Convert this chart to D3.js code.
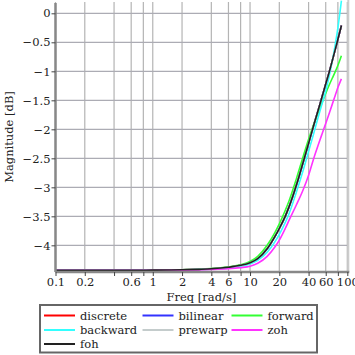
<!DOCTYPE html>
<html><head><meta charset="utf-8">
<script src="https://cdn.jsdelivr.net/npm/d3@7"></script>
<style>body{margin:0;background:#fff}svg{display:block}text{font-family:"DejaVu Serif",serif;fill:#222}</style>
</head><body>
<script>
const freq     = [0.1, 0.5, 1, 2, 3, 4, 6, 8, 10, 12, 15, 18, 20, 23, 25, 30, 35, 40, 45, 50, 55, 60, 65, 70, 75, 80, 85, 87];
const foh      = [-4.43,-4.43,-4.428,-4.422,-4.414,-4.405,-4.378,-4.345,-4.30,-4.23,-4.06,-3.85,-3.71,-3.50,-3.35,-2.96,-2.58,-2.24,-1.94,-1.68,-1.44,-1.22,-1.02,-0.82,-0.63,-0.45,-0.28,-0.21];
const discrete = foh.slice();
const bilinear = foh.slice();
const prewarp  = foh.slice();
const forward  = [-4.43,-4.43,-4.428,-4.42,-4.412,-4.40,-4.37,-4.335,-4.28,-4.19,-4.00,-3.78,-3.63,-3.40,-3.25,-2.85,-2.48,-2.17,-1.92,-1.72,-1.54,-1.38,-1.24,-1.12,-1.01,-0.90,-0.78,-0.73];
const backward = [-4.43,-4.43,-4.43,-4.425,-4.418,-4.41,-4.39,-4.36,-4.32,-4.26,-4.12,-3.94,-3.81,-3.61,-3.47,-3.08,-2.72,-2.38,-2.08,-1.80,-1.56,-1.34,-1.09,-0.83,-0.55,-0.25,0.08,0.22];
const zoh      = [-4.43,-4.43,-4.43,-4.427,-4.423,-4.418,-4.405,-4.385,-4.36,-4.31,-4.19,-4.03,-3.91,-3.71,-3.58,-3.30,-3.05,-2.79,-2.51,-2.28,-2.08,-1.90,-1.73,-1.57,-1.42,-1.28,-1.17,-1.13];
const seriesNames  = ["discrete","bilinear","forward","backward","prewarp","zoh","foh"];
const seriesColors = ["#ff0000","#3333ff","#33ff33","#33ffff","#c4cccc","#ff33ff","#222222"];
const seriesValues = [discrete, bilinear, forward, backward, prewarp, zoh, foh];
const xTicks = [0.1,0.2,0.4,0.6,0.8,1,2,4,6,8,10,20,40,60,80,100];
const xTickLabels = {0.1:"0.1",0.2:"0.2",0.6:"0.6",1:"1",2:"2",4:"4",6:"6",10:"10",20:"20",40:"40",60:"60",100:"100"};
const yTicks = [0,-0.5,-1,-1.5,-2,-2.5,-3,-3.5,-4];

const W = 355, H = 355;
const L = 55.5, R = 347.3, T = 2, B = 272;
const svg = d3.select("body").append("svg").attr("width", W).attr("height", H);
const x = d3.scaleLog().domain([0.1, 100]).range([L, R]);
const y = d3.scaleLinear().domain([-4.46, 0.195]).range([B, T]);

// grid
svg.append("g").selectAll("line").data(xTicks).join("line")
  .attr("x1", d => x(d)).attr("x2", d => x(d)).attr("y1", T).attr("y2", B)
  .attr("stroke", "#b4b4b4").attr("stroke-width", 1.2);
svg.append("g").selectAll("line").data(yTicks).join("line")
  .attr("x1", L).attr("x2", R).attr("y1", d => y(d)).attr("y2", d => y(d))
  .attr("stroke", "#acacb4").attr("stroke-width", 1.2);
// right border
svg.append("line").attr("x1", R + 1).attr("x2", R + 1).attr("y1", 0).attr("y2", B)
  .attr("stroke", "#cccccc").attr("stroke-width", 2);

// clip
svg.append("clipPath").attr("id", "clip").append("rect")
  .attr("x", L).attr("y", 0).attr("width", R - L).attr("height", B);

const line = d3.line().x((d, i) => x(freq[i])).y(d => y(d)).curve(d3.curveMonotoneX);
const gl = svg.append("g").attr("clip-path", "url(#clip)");
seriesValues.forEach((vals, k) => {
  gl.append("path").attr("d", line(vals)).attr("fill", "none")
    .attr("stroke", seriesColors[k]).attr("stroke-width", 1.6);
});

// axes
const yAxis = d3.axisLeft(y).tickValues(yTicks).tickSize(4).tickPadding(1)
  .tickFormat(d => d3.format("")(d).replace("-", "\u2212"));
const gy = svg.append("g").attr("transform", `translate(${L},0)`).call(yAxis);
gy.select(".domain").attr("stroke", "#888").attr("stroke-width", 2.5).attr("d", `M0,${T+1}V${B}`);
gy.selectAll(".tick line").attr("stroke", "#444");
gy.selectAll(".tick text").attr("font-size", 11.5).attr("font-family", "DejaVu Serif").attr("fill", "#222");

const xAxis = d3.axisBottom(x).tickValues(xTicks).tickSize(4).tickPadding(2)
  .tickFormat(d => xTickLabels[d] || "");
const gx = svg.append("g").attr("transform", `translate(0,${B})`).call(xAxis);
gx.select(".domain").attr("stroke", "#888").attr("stroke-width", 2.5).attr("d", `M${L},0H${R+2}`);
gx.selectAll(".tick line").attr("stroke", "#444");
gx.selectAll(".tick text").attr("font-size", 11.5).attr("font-family", "DejaVu Serif").attr("fill", "#222");

svg.append("text").attr("x", (L + R) / 2).attr("y", 301).attr("text-anchor", "middle")
  .attr("font-size", 11.5).text("Freq [rad/s]");
svg.append("text").attr("transform", `translate(13,${(T + B) / 2}) rotate(-90)`)
  .attr("text-anchor", "middle").attr("font-size", 11.5).text("Magnitude [dB]");

// legend
const lg = svg.append("g");
lg.append("rect").attr("x", 40).attr("y", 305).attr("width", 277).attr("height", 47.5)
  .attr("fill", "#fff").attr("stroke", "#666").attr("stroke-width", 2);
const colX = [44, 142.5, 231.5];
const rowY = [315.5, 330, 344];
seriesNames.forEach((n, i) => {
  const cx = colX[i % 3], cy = rowY[Math.floor(i / 3)];
  lg.append("line").attr("x1", cx).attr("x2", cx + 31).attr("y1", cy).attr("y2", cy)
    .attr("stroke", seriesColors[i]).attr("stroke-width", 2);
  lg.append("text").attr("x", cx + 36).attr("y", cy + 4).attr("font-size", 11.5).text(n);
});
</script>
</body></html>
